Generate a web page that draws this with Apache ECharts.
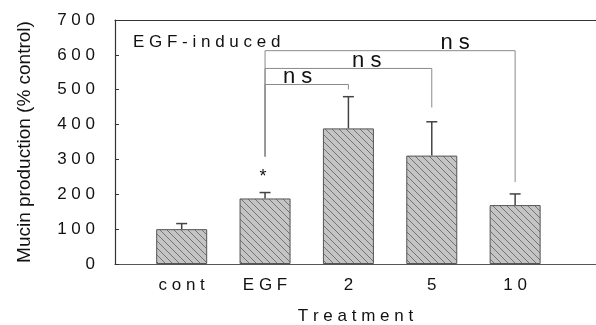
<!DOCTYPE html>
<html>
<head>
<meta charset="utf-8">
<title>Mucin production</title>
<script src="https://cdn.jsdelivr.net/npm/echarts@6/dist/echarts.min.js"></script>
<style>
    html, body { margin: 0; padding: 0; background: #fff; }
    #main { width: 596px; height: 325px; }
</style>
</head>
<body>
<div id="main"></div>
<script>
    // data
    var categories = ['cont', 'EGF', '2', '5', '10'];
    var positions = [1, 2, 3, 4, 5];
    var means = [100, 188, 389, 311, 169];
    var errTops = [116, 205, 480, 408, 201];
    var yTicks = [0, 100, 200, 300, 400, 500, 600, 700];

    // brackets: from EGF to each dose
    var bracketTo = [3, 4, 5];
    var bracketLevel = [515, 561, 612];
    var bracketDrop = [501, 449, 235];
    var bracketFoot = 308;
    var nsX = [2.39, 3.22, 4.28];
    var starPos = [2, 250];

    function spaced(s) { return String(s).split('').join(' '); }

    // hatch pattern for the bars
    var pc = document.createElement('canvas');
    pc.width = 7; pc.height = 7;
    var g = pc.getContext('2d');
    g.fillStyle = '#c4c4c4';
    g.fillRect(0, 0, 7, 7);
    g.strokeStyle = '#6a6a6a';
    g.lineWidth = 0.9;
    g.beginPath();
    g.moveTo(-1, -1); g.lineTo(8, 8);
    g.moveTo(-1, 6); g.lineTo(1, 8);
    g.moveTo(6, -1); g.lineTo(8, 1);
    g.stroke();

    var font = 'Arial, "Liberation Sans", sans-serif';

    var chart = echarts.init(document.getElementById('main'));
    chart.setOption({
        animation: false,
        textStyle: { fontFamily: font },
        title: {
            text: 'E G F - i n d u c e d',
            left: 128, top: 29,
            textStyle: { fontSize: 17, fontWeight: 'normal', color: '#111' }
        },
        grid: { left: 115, right: 0, top: 20, bottom: 61, outerBoundsMode: 'none', containLabel: false },
        xAxis: [{
            type: 'value', min: 0.2, max: 5.97,
            name: 'T r e a t m e n t', nameLocation: 'middle', nameGap: 44,
            nameTextStyle: { fontSize: 17, color: '#111' },
            axisLine: { lineStyle: { color: '#555', width: 1.2 } },
            axisTick: { show: false },
            splitLine: { show: false },
            axisLabel: {
                customValues: positions, margin: 13,
                fontSize: 17, color: '#111',
                formatter: function (v) {
                    var i = positions.indexOf(v);
                    return i < 0 ? '' : spaced(categories[i]);
                }
            }
        }, {
            type: 'value', position: 'top', min: 0.2, max: 5.97,
            axisLine: { show: true, lineStyle: { color: '#333', width: 1.2 } },
            axisTick: { show: false }, axisLabel: { show: false }, splitLine: { show: false }
        }],
        yAxis: {
            type: 'value', min: 0, max: 700, interval: 100,
            name: 'Mucin production (% control)', nameLocation: 'middle', nameGap: 81,
            nameTextStyle: { fontSize: 19, color: '#111' },
            axisLine: { show: true, lineStyle: { color: '#333', width: 1.2 } },
            axisTick: { show: true, inside: true, length: 4, lineStyle: { color: '#333' } },
            splitLine: { show: false },
            axisLabel: {
                customValues: yTicks, margin: 20, fontSize: 17, color: '#111',
                formatter: function (v) { return spaced(v); }
            }
        },
        series: [{
            type: 'bar',
            barWidth: 51,
            data: positions.map(function (x, i) { return [x, means[i]]; }),
            itemStyle: {
                color: { image: pc, repeat: 'repeat' },
                borderColor: '#555', borderWidth: 1
            }
        }, {
            type: 'custom',
            data: positions.map(function (x, i) { return [x, means[i], errTops[i]]; }),
            renderItem: function (params, api) {
                var p0 = api.coord([api.value(0), api.value(1)]);
                var p1 = api.coord([api.value(0), api.value(2)]);
                var st = { stroke: '#444', lineWidth: 1.5 };
                return {
                    type: 'group', children: [
                        { type: 'line', shape: { x1: p0[0], y1: p0[1], x2: p1[0], y2: p1[1] }, style: st },
                        { type: 'line', shape: { x1: p1[0] - 5.5, y1: p1[1], x2: p1[0] + 5.5, y2: p1[1] }, style: st }
                    ]
                };
            },
            z: 3
        }, {
            type: 'custom',
            data: bracketTo.map(function (x, i) { return [x, bracketLevel[i], bracketDrop[i], nsX[i]]; }),
            renderItem: function (params, api) {
                var foot = api.coord([2, bracketFoot]);
                var top = api.coord([2, api.value(1)]);
                var right = api.coord([api.value(0), api.value(1)]);
                var drop = api.coord([api.value(0), api.value(2)]);
                var lab = api.coord([api.value(3), api.value(1)]);
                return {
                    type: 'group', children: [
                        {
                            type: 'polyline',
                            shape: { points: [foot, top, right, drop] },
                            style: { stroke: '#8a8a8a', lineWidth: 1, fill: null }
                        },
                        {
                            type: 'text',
                            style: {
                                x: lab[0], y: lab[1] + 3, text: 'n s',
                                font: '22px ' + font, fill: '#111',
                                align: 'center', verticalAlign: 'bottom'
                            }
                        }
                    ]
                };
            },
            z: 4
        }, {
            type: 'custom',
            data: [starPos],
            renderItem: function (params, api) {
                var p = api.coord([api.value(0), api.value(1)]);
                return {
                    type: 'text',
                    style: {
                        x: p[0] - 2, y: p[1], text: '*', font: '18px ' + font, fill: '#111',
                        align: 'center', verticalAlign: 'middle'
                    }
                };
            }
        }]
    });
</script>
</body>
</html>
